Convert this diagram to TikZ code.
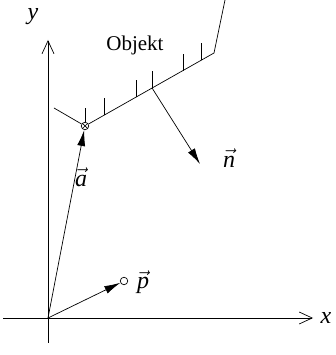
\documentclass[tikz,border=0pt]{standalone}
\usepackage{fontspec}
\setmainfont{Liberation Serif}
\usetikzlibrary{arrows.meta}

\newcommand{\vecit}[1]{$\vec{\mbox{\itshape #1}}$}

\begin{document}
\begin{tikzpicture}[x=1pt,y=1pt,line width=0.7pt,
  font=\fontsize{21}{24}\selectfont,
  axis/.style={-{Straight Barb[length=13pt,width=12pt,line width=0.7pt]}},
  vecarrow/.style={-{Latex[length=16pt,width=8pt]}},
  veclab/.style={font=\fontsize{24}{28}\selectfont},
  dot/.style={circle,draw,fill=white,inner sep=0pt,minimum size=7.5pt}]

\useasboundingbox (0,0) rectangle (335,355);

% Axes
\coordinate (O) at (48,37);
\coordinate (xs) at (3,37);
\coordinate (xe) at (313,37);
\coordinate (ys) at (48,12);
\coordinate (ye) at (48,315);
\draw[axis] (xs) -- (xe);
\draw[axis] (ys) -- (ye);
\node[veclab] (xlab) at (326,37) {\itshape x};
\node[veclab] (ylab) at (33,338) {\itshape y};

% Object boundary
\node[dot,path picture={
  \draw (path picture bounding box.north west) -- (path picture bounding box.south east);
  \draw (path picture bounding box.south west) -- (path picture bounding box.north east);}]
  (A) at (85,229) {};
\coordinate (stub) at (54,247);
\coordinate (B) at (214,302);
\coordinate (top) at (225,355);
\draw (stub) -- (A) -- (B) -- (top);
\node (obj) at (135,310) {Objekt};

% Hatching
\draw (A.north) -- ++(0,14);
\foreach \t in {0.147,0.40,0.52,0.76,0.90}
  \path (A.center) -- (B) coordinate[pos=\t] (h) (h) edge ++(0,17);

% Normal vector
\path (A.center) -- (B) coordinate[pos=0.52] (n0);
\coordinate (n1) at (200,191);
\draw[vecarrow] (n0) -- (n1);
\node[veclab] (nlab) at (229,197) {\vecit{n}};

% Position vectors
\node[dot] (P) at (124,74) {};
\draw[vecarrow] (O) -- (A);
\draw[vecarrow] (O) -- (P);
\node[veclab] (alab) at (81,178) {\vecit{a}};
\node[veclab] (plab) at (143,73) {\vecit{p}};

\end{tikzpicture}
\end{document}
